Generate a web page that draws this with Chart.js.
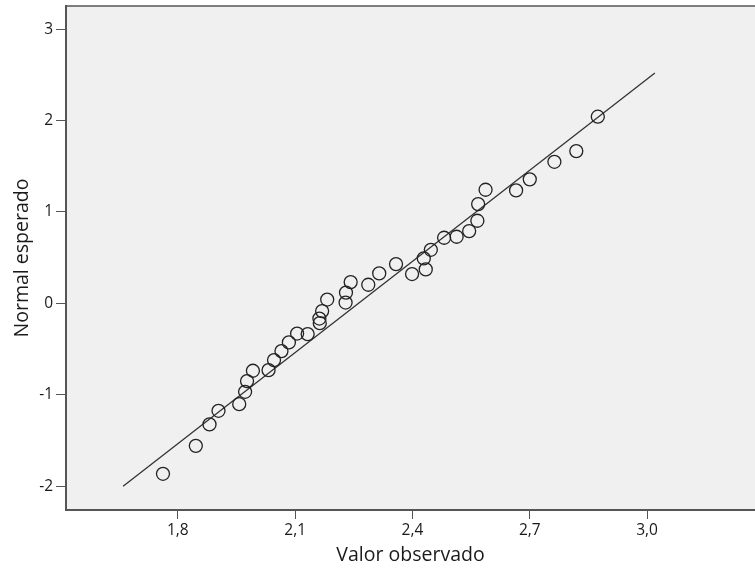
<!DOCTYPE html>
<html>
<head>
<meta charset="utf-8">
<script src="https://cdn.jsdelivr.net/npm/chart.js@4/dist/chart.umd.min.js"></script>
<style>
  html, body { margin: 0; padding: 0; background: #ffffff; }
  #wrap { width: 755px; height: 569px; }
</style>
</head>
<body>
<div id="wrap"><canvas id="qq"></canvas></div>
<script>
const observed = [1.762, 1.846, 1.881, 1.904, 1.957, 1.972, 1.977, 1.992, 2.032, 2.046,
  2.065, 2.084, 2.105, 2.132, 2.163, 2.162, 2.169, 2.182, 2.229, 2.230,
  2.242, 2.287, 2.315, 2.358, 2.399, 2.429, 2.434, 2.447, 2.481, 2.513,
  2.545, 2.566, 2.568, 2.587, 2.665, 2.700, 2.763, 2.819, 2.874];
const expected = [-1.864, -1.558, -1.324, -1.175, -1.102, -0.967, -0.850, -0.737, -0.730, -0.620,
  -0.522, -0.427, -0.330, -0.336, -0.216, -0.166, -0.084, 0.042, 0.009, 0.118,
  0.233, 0.204, 0.328, 0.430, 0.321, 0.492, 0.372, 0.586, 0.718, 0.729,
  0.791, 0.904, 1.086, 1.243, 1.236, 1.357, 1.549, 1.666, 2.042];

// reference line ends
const lineX = [1.66, 3.02];
const lineY = [-2.0, 2.52];

const xTicks = [1.8, 2.1, 2.4, 2.7, 3.0];
const yTicks = [-2, -1, 0, 1, 2, 3];

const FONT = "'Open Sans', sans-serif";
const AXIS = '#555555';

// plot area background and top border
const plotFrame = {
  id: 'plotFrame',
  beforeDraw(chart) {
    const { ctx, chartArea: a } = chart;
    ctx.save();
    ctx.fillStyle = '#f0f0f0';
    ctx.fillRect(a.left, a.top, a.right - a.left, a.bottom - a.top);
    ctx.strokeStyle = AXIS;
    ctx.lineWidth = 1.5;
    ctx.beginPath();
    ctx.moveTo(a.left, a.top);
    ctx.lineTo(a.right, a.top);
    ctx.stroke();
    ctx.restore();
  }
};

// no extra room for end labels, the frame is fixed
function noPad(s) {
  s.paddingTop = 0;
  s.paddingBottom = 0;
  s.paddingLeft = 0;
  s.paddingRight = 0;
}

new Chart(document.getElementById('qq'), {
  type: 'scatter',
  data: {
    datasets: [
      {
        label: 'Observado',
        data: observed.map((x, i) => ({ x: x, y: expected[i] })),
        pointRadius: 6.5,
        pointHoverRadius: 6.5,
        pointBackgroundColor: 'rgba(0,0,0,0)',
        pointBorderColor: '#222222',
        pointBorderWidth: 1.3
      },
      {
        type: 'line',
        label: 'Normal',
        data: lineX.map((x, i) => ({ x: x, y: lineY[i] })),
        borderColor: '#333333',
        borderWidth: 1.3,
        pointRadius: 0,
        fill: false
      }
    ]
  },
  options: {
    responsive: true,
    maintainAspectRatio: false,
    animation: false,
    layout: { autoPadding: false, padding: { top: 6, right: 0, left: 0, bottom: 0 } },
    plugins: { legend: { display: false }, tooltip: { enabled: false } },
    scales: {
      x: {
        type: 'linear',
        min: 1.514,
        max: 3.276,
        afterBuildTicks: (s) => { s.ticks = xTicks.map(v => ({ value: v })); },
        afterFit: (s) => { s.height = 59; noPad(s); },
        border: { display: true, color: AXIS, width: 2 },
        grid: { drawOnChartArea: false, drawTicks: true, tickLength: 9, color: AXIS, lineWidth: 1 },
        ticks: {
          color: '#1a1a1a',
          padding: 2,
          font: { family: FONT, size: 15.5 },
          maxRotation: 0,
          callback: (v) => v.toFixed(1).replace('.', ',')
        },
        title: {
          display: true,
          text: 'Valor observado',
          color: '#1a1a1a',
          font: { family: FONT, size: 19.5 },
          padding: { top: 0, bottom: 2 }
        }
      },
      y: {
        type: 'linear',
        min: -2.26,
        max: 3.253,
        afterBuildTicks: (s) => { s.ticks = yTicks.map(v => ({ value: v })); },
        afterFit: (s) => { s.width = 66; noPad(s); },
        border: { display: true, color: AXIS, width: 2 },
        grid: { drawOnChartArea: false, drawTicks: true, tickLength: 10, color: AXIS, lineWidth: 1 },
        ticks: {
          color: '#1a1a1a',
          padding: 3,
          font: { family: FONT, size: 15.5 },
          callback: (v) => String(v)
        },
        title: {
          display: true,
          text: 'Normal esperado',
          color: '#1a1a1a',
          font: { family: FONT, size: 19.5 },
          padding: { top: 11, bottom: 0 }
        }
      }
    }
  },
  plugins: [plotFrame]
});
</script>
</body>
</html>
